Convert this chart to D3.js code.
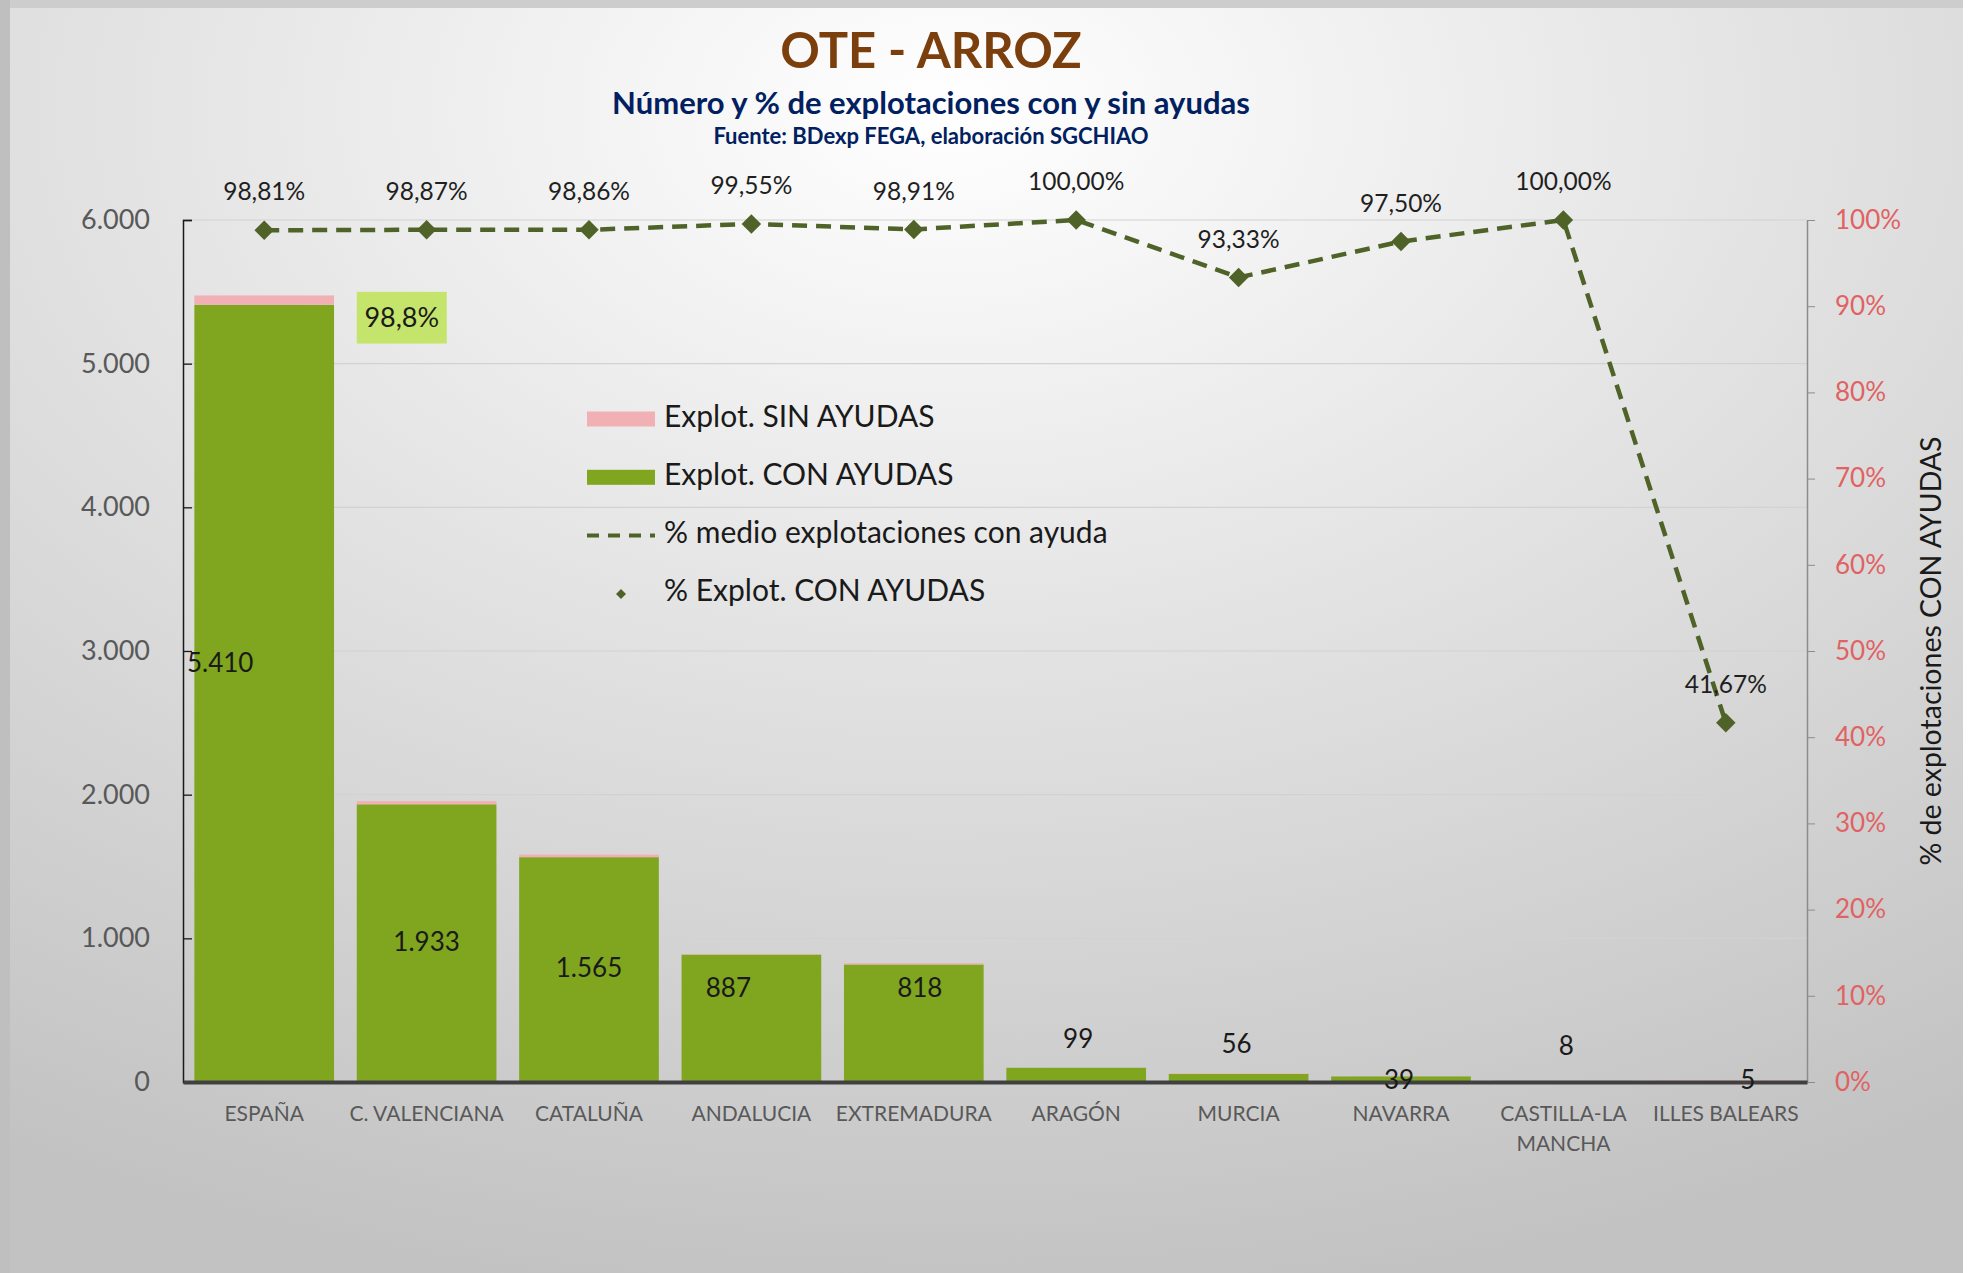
<!DOCTYPE html>
<html>
<head>
<meta charset="utf-8">
<script src="https://cdn.jsdelivr.net/npm/d3@7.9.0/dist/d3.min.js"></script>
<style>
  html, body { margin: 0; padding: 0; background: #ffffff; }
  svg { display: block; }
  text { font-family: Lato, "Noto Sans", sans-serif; }
</style>
</head>
<body>
<svg id="chart" width="1968" height="1273"></svg>
<script>
// data
const categories = ['ESPAÑA', 'C. VALENCIANA', 'CATALUÑA', 'ANDALUCIA', 'EXTREMADURA',
  'ARAGÓN', 'MURCIA', 'NAVARRA', 'CASTILLA-LA MANCHA', 'ILLES BALEARS'];
const conAyudas = [5410, 1933, 1565, 887, 818, 99, 56, 39, 8, 5];
const sinAyudas = [65, 22, 18, 4, 9, 0, 4, 1, 0, 7];
const pctConAyudas = [0.9881, 0.9887, 0.9886, 0.9955, 0.9891, 1.0, 0.9333, 0.975, 1.0, 0.4167];
const pctMedio = 0.988;
const leftTicks = [0, 1000, 2000, 3000, 4000, 5000, 6000];
const rightTicks = [0, 0.1, 0.2, 0.3, 0.4, 0.5, 0.6, 0.7, 0.8, 0.9, 1.0];

const W = 1968, H = 1273;
const plot = { left: 183, right: 1807, top: 220, bottom: 1082 };

const green = '#80a51f', pink = '#f1b0b4', olive = '#4f6228';
const fmtNum = d3.formatLocale({ decimal: ',', thousands: '.', grouping: [3] }).format(',d');
const fmtPct2 = v => (v * 100).toFixed(2).replace('.', ',') + '%';

const svg = d3.select('#chart');

// background panel
const defs = svg.append('defs');
const grad = defs.append('radialGradient').attr('id', 'bg')
  .attr('cx', '48%').attr('cy', '8%').attr('r', '95%');
grad.append('stop').attr('offset', '0%').attr('stop-color', '#ffffff');
grad.append('stop').attr('offset', '45%').attr('stop-color', '#e3e3e3');
grad.append('stop').attr('offset', '100%').attr('stop-color', '#c2c2c2');

svg.append('rect').attr('x', 0).attr('y', 0).attr('width', 1963).attr('height', 8).attr('fill', '#cdcdcd');
svg.append('rect').attr('x', 0).attr('y', 0).attr('width', 10).attr('height', H).attr('fill', '#bfbfbf');
svg.append('rect').attr('x', 10).attr('y', 8).attr('width', 1953).attr('height', H - 8).attr('fill', 'url(#bg)');

// scales
const x = d3.scaleBand().domain(categories).range([plot.left, plot.right])
  .paddingInner(0.14).paddingOuter(0.07);
const y = d3.scaleLinear().domain([0, 6000]).range([plot.bottom, plot.top]);
const y2 = d3.scaleLinear().domain([0, 1]).range([plot.bottom, plot.top]);
const cx = c => x(c) + x.bandwidth() / 2;

// titles
svg.append('text').attr('x', 931).attr('y', 55).attr('text-anchor', 'middle')
  .attr('dominant-baseline', 'middle').attr('font-size', 49).attr('font-weight', 700)
  .attr('fill', '#7b3f0e').text('OTE - ARROZ');
svg.append('text').attr('x', 931).attr('y', 106).attr('text-anchor', 'middle')
  .attr('dominant-baseline', 'middle').attr('font-size', 31).attr('font-weight', 700)
  .attr('fill', '#002060').text('Número y % de explotaciones con y sin ayudas');
svg.append('text').attr('x', 931).attr('y', 138).attr('text-anchor', 'middle')
  .attr('dominant-baseline', 'middle').attr('font-size', 22).attr('font-weight', 700)
  .attr('fill', '#002060').text('Fuente: BDexp FEGA, elaboración SGCHIAO');

// gridlines
svg.append('g').selectAll('line').data(leftTicks.filter(d => d > 0)).join('line')
  .attr('x1', plot.left).attr('x2', plot.right)
  .attr('y1', d => y(d)).attr('y2', d => y(d))
  .attr('stroke', '#d2d2d2').attr('stroke-width', 1.2);

// stacked bars
const rows = categories.map((c, i) => ({ cat: c, con: conAyudas[i], sin: sinAyudas[i] }));
const bars = svg.append('g');
bars.selectAll('rect.con').data(rows).join('rect').attr('class', 'con')
  .attr('x', d => x(d.cat)).attr('width', x.bandwidth())
  .attr('y', d => y(d.con)).attr('height', d => y(0) - y(d.con))
  .attr('fill', green);
bars.selectAll('rect.sin').data(rows).join('rect').attr('class', 'sin')
  .attr('x', d => x(d.cat)).attr('width', x.bandwidth())
  .attr('y', d => y(d.con + d.sin)).attr('height', d => y(d.con) - y(d.con + d.sin))
  .attr('fill', pink);

// left axis
const leftAxis = svg.append('g').attr('transform', `translate(${plot.left},0)`)
  .call(d3.axisLeft(y).tickValues(leftTicks).tickSizeInner(-9).tickSizeOuter(-9)
    .tickPadding(33).tickFormat(d => fmtNum(d)));
leftAxis.select('.domain').attr('stroke', '#1a1a1a').attr('stroke-width', 1.5);
leftAxis.selectAll('.tick line').attr('stroke', '#1a1a1a').attr('stroke-width', 1.3);
leftAxis.selectAll('.tick text').attr('font-size', 27)
  .attr('fill', '#595959').attr('font-family', '"DejaVu Sans", sans-serif');

// right axis
const rightAxis = svg.append('g').attr('transform', `translate(${plot.right},0)`)
  .call(d3.axisRight(y2).tickValues(rightTicks).tickSizeInner(8).tickSizeOuter(0)
    .tickPadding(20).tickFormat(d3.format('.0%')));
rightAxis.select('.domain').attr('stroke', '#8c8c8c').attr('stroke-width', 1.5);
rightAxis.selectAll('.tick line').attr('stroke', '#8c8c8c');
rightAxis.selectAll('.tick text').attr('font-size', 26).attr('fill', '#e06262')
  .attr('font-family', '"DejaVu Sans", sans-serif');

svg.append('text').attr('transform', `translate(1934,${(plot.top + plot.bottom) / 2}) rotate(-90)`)
  .attr('text-anchor', 'middle').attr('dominant-baseline', 'middle')
  .attr('font-size', 28.5).attr('fill', '#1a1a1a').text('% de explotaciones CON AYUDAS');

// bottom axis
const bottomAxis = svg.append('g').attr('transform', `translate(0,${plot.bottom})`)
  .call(d3.axisBottom(x).tickSize(0).tickPadding(24));
bottomAxis.select('.domain').attr('stroke', '#404040').attr('stroke-width', 4);
bottomAxis.selectAll('.tick text').attr('font-size', 21).attr('fill', '#595959')
  .each(function (d) {
    const t = d3.select(this);
    if (this.getComputedTextLength() > x.step()) {
      const parts = d.split(/(?<=-LA) /);
      t.text(null);
      parts.forEach((p, k) => t.append('tspan').attr('x', 0).attr('dy', k === 0 ? '0.71em' : '1.43em').text(p));
      t.attr('dy', null);
    }
  });

// percentage line
const linePts = categories.map((c, i) => ({ cat: c, p: pctConAyudas[i] }));
svg.append('path').datum(linePts)
  .attr('d', d3.line().x(d => cx(d.cat)).y(d => y2(d.p)))
  .attr('fill', 'none').attr('stroke', olive).attr('stroke-width', 4.5)
  .attr('stroke-dasharray', '15 9');
svg.append('g').selectAll('path').data(linePts).join('path')
  .attr('d', d3.symbol(d3.symbolSquare, 190)())
  .attr('transform', d => `translate(${cx(d.cat)},${y2(d.p)}) rotate(45)`)
  .attr('fill', olive);
svg.append('g').selectAll('text').data(linePts).join('text')
  .attr('x', d => cx(d.cat)).attr('y', d => y2(d.p) - 36)
  .attr('text-anchor', 'middle').attr('dominant-baseline', 'middle')
  .attr('font-size', 24.5).attr('fill', '#1f1f1f').text(d => fmtPct2(d.p));

// value labels of the green bars (placement as in the reference)
const labelDx = [-44, 0, 0, -23, 6, 2, -2, -2, 3, 22];
const labelAt = [2900, 960, 776, 640, 640, 285, 250, -5, 236, -5];
svg.append('g').selectAll('text').data(rows).join('text')
  .attr('x', (d, i) => cx(d.cat) + labelDx[i]).attr('y', (d, i) => y(labelAt[i]))
  .attr('text-anchor', 'middle').attr('dominant-baseline', 'middle')
  .attr('font-size', 26).attr('fill', '#1a1a1a').text(d => fmtNum(d.con));

// average box
const bx = x(categories[1]);
svg.append('rect').attr('x', bx).attr('y', y(5500)).attr('width', 90)
  .attr('height', y(5140) - y(5500)).attr('fill', '#c5e46c');
svg.append('text').attr('x', bx + 45).attr('y', (y(5500) + y(5140)) / 2 + 2)
  .attr('text-anchor', 'middle').attr('dominant-baseline', 'middle')
  .attr('font-size', 27).attr('fill', '#1a1a1a')
  .text((pctMedio * 100).toFixed(1).replace('.', ',') + '%');

// legend
const legend = svg.append('g').attr('transform', 'translate(587,419)');
const items = [
  { label: 'Explot. SIN AYUDAS', kind: 'rect', color: pink },
  { label: 'Explot. CON AYUDAS', kind: 'rect', color: green },
  { label: '% medio explotaciones con ayuda', kind: 'dash', color: olive },
  { label: '% Explot. CON AYUDAS', kind: 'dot', color: olive }
];
items.forEach((it, i) => {
  const g = legend.append('g').attr('transform', `translate(0,${i * 58.3})`);
  if (it.kind === 'rect') {
    g.append('rect').attr('x', 0).attr('y', -7.5).attr('width', 68).attr('height', 15).attr('fill', it.color);
  } else if (it.kind === 'dash') {
    g.append('line').attr('x1', 0).attr('x2', 68).attr('y1', 0).attr('y2', 0)
      .attr('stroke', it.color).attr('stroke-width', 4).attr('stroke-dasharray', '12 9');
  } else {
    g.append('path').attr('d', d3.symbol(d3.symbolSquare, 50)())
      .attr('transform', 'translate(34,0) rotate(45)').attr('fill', it.color);
  }
  g.append('text').attr('x', 77).attr('y', 0).attr('dominant-baseline', 'middle')
    .attr('font-size', 30).attr('fill', '#1a1a1a').text(it.label);
});
</script>
</body>
</html>
